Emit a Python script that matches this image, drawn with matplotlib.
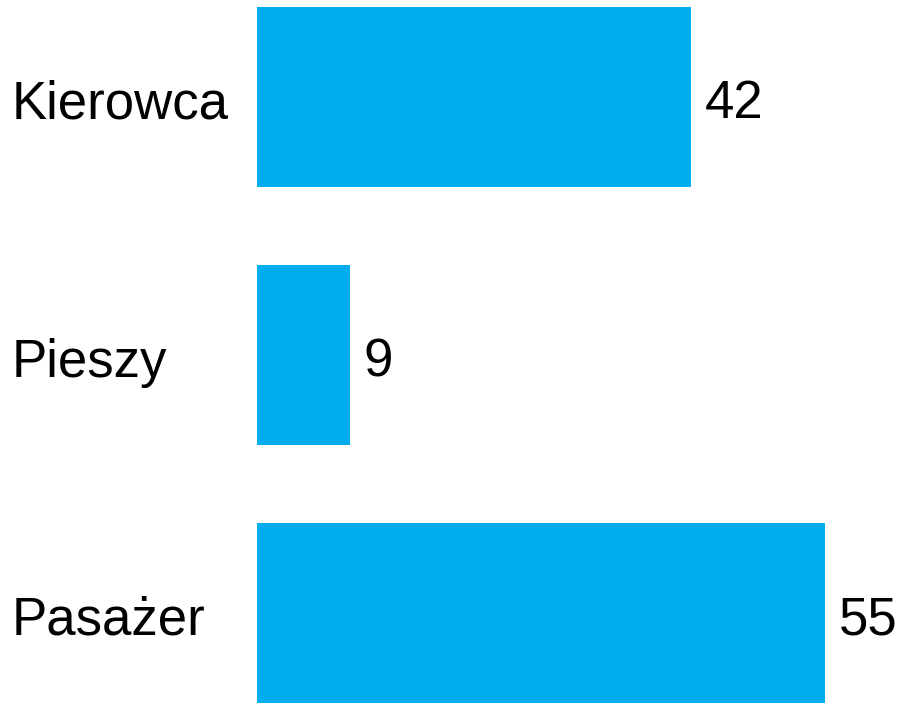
import matplotlib
matplotlib.use('Agg')
import matplotlib.pyplot as plt
from matplotlib import rcParams
from matplotlib.transforms import blended_transform_factory, offset_copy

rcParams['font.family'] = ['Liberation Sans', 'DejaVu Sans']

categories = ['Kierowca', 'Pieszy', 'Pasażer']
values = [42, 9, 55]

fig = plt.figure(figsize=(9.05, 7.04), dpi=100)
ax = fig.add_axes([257 / 905, 0, 648 / 905, 1])

pos = list(range(len(categories)))[::-1]  # top to bottom
ax.barh(pos, values, height=0.70, color='#00AEEF')
ax.set_xlim(0, 648 / 10.333)
ax.set_ylim(-91 / 258, (704 - 91) / 258)
ax.axis('off')

# value labels just right of the bars
for p, v in zip(pos, values):
    tr = offset_copy(ax.transData, fig=fig, x=14, y=-2, units='dots')
    ax.text(v, p, str(v), transform=tr, ha='left', va='center_baseline', fontsize=38, color='black')

# category labels at the left edge of the figure
tr = offset_copy(blended_transform_factory(fig.transFigure, ax.transData), fig=fig, x=0, y=-2, units='dots')
for p, c in zip(pos, categories):
    ax.text(12 / 905, p, c, transform=tr, ha='left', va='center_baseline', fontsize=38, color='black')

fig.savefig('out.png', dpi=100)
plt.close()
